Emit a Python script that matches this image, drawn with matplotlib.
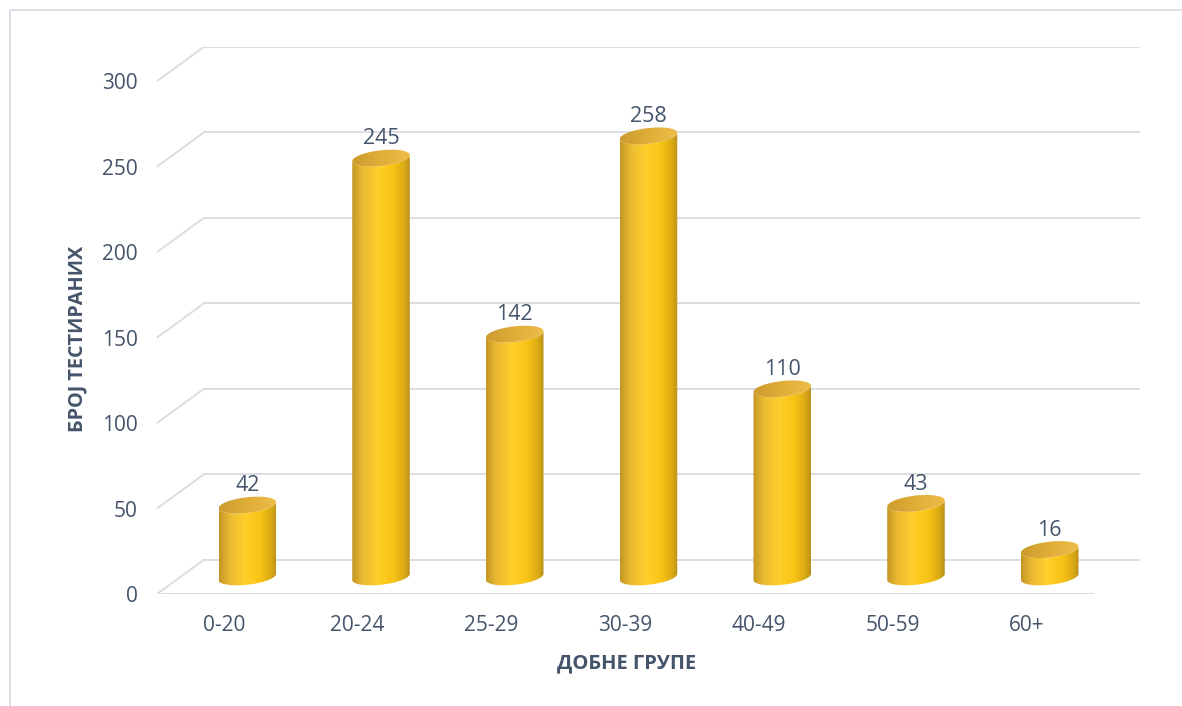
import numpy as np
import matplotlib
matplotlib.use("Agg")
import matplotlib.pyplot as plt
from matplotlib.patches import Polygon, Rectangle
from matplotlib.colors import LinearSegmentedColormap

plt.rcParams['font.family'] = ['Open Sans', 'DejaVu Sans']

# age groups and number of tested persons
groups = ['0-20', '20-24', '25-29', '30-39', '40-49', '50-59', '60+']
counts = [42, 245, 142, 258, 110, 43, 16]
yticks = [0, 50, 100, 150, 200, 250, 300]

TXT = '#44546A'
GRID = '#DCDCE2'

# pseudo-3D depth: back wall sits up/right, front edge down/left
dx = 0.175     # in category units
dz = 10.0      # in value units
bw = 0.215     # cylinder half width
eh = 4.6       # ellipse half height
shear = 1.8    # small tilt of the ellipses

fig = plt.figure(figsize=(11.82, 7.06), dpi=100)
fig.patch.set_facecolor('white')
fig.add_artist(Rectangle((10 / 1182, -0.02), 1.1, 1 - 10 / 706 + 0.02,
                         transform=fig.transFigure, fill=False,
                         ec='#D9DCE6', lw=1.3))

ax = fig.add_axes([157 / 1182, 1 - 594 / 706, 983 / 1182, 547 / 706])
n = len(groups)
x0, x1 = -0.5, n - 0.5

# back wall gridlines + slanted side lines
for v in yticks:
    ax.plot([x0 + dx, x1 + dx], [v + dz, v + dz], color=GRID, lw=1.4, zorder=1)
    ax.plot([x0 - dx, x0 + dx], [v - dz, v + dz], color=GRID, lw=1.4, zorder=1)
# front floor edge
ax.plot([x0 - dx, x1 - dx], [-dz, -dz], color=GRID, lw=1.4, zorder=1)

body_cmap = LinearSegmentedColormap.from_list('body', [
    (0.00, (0.76, 0.59, 0.14)),
    (0.18, (0.92, 0.73, 0.20)),
    (0.45, (1.00, 0.81, 0.17)),
    (0.70, (0.98, 0.77, 0.08)),
    (0.90, (0.86, 0.67, 0.08)),
    (1.00, (0.73, 0.56, 0.10)),
])
top_cmap = LinearSegmentedColormap.from_list('top', [
    (0.0, (0.80, 0.61, 0.18)),
    (0.5, (0.88, 0.68, 0.22)),
    (1.0, (0.93, 0.74, 0.29)),
])


def ellipse(cx, cy, t):
    return cx + bw * np.cos(t), cy + eh * np.sin(t) + shear * np.cos(t)


t_low = np.linspace(np.pi, 2 * np.pi, 60)
t_all = np.linspace(0, 2 * np.pi, 120)
grad = np.linspace(0, 1, 256)[None, :]

for i, v in enumerate(counts):
    bx, by = ellipse(i, 0, t_low)
    tx, ty = ellipse(i, v, t_low[::-1])
    body = Polygon(np.column_stack([np.r_[bx, tx], np.r_[by, ty]]),
                   closed=True, fc='none', ec='none')
    ax.add_patch(body)
    im = ax.imshow(grad, cmap=body_cmap, aspect='auto', zorder=2,
                   extent=[i - bw, i + bw, -eh - 3, v + eh + 3])
    im.set_clip_path(body)

    ex, ey = ellipse(i, v, t_all)
    cap = Polygon(np.column_stack([ex, ey]), closed=True, fc='none', ec='none')
    ax.add_patch(cap)
    im2 = ax.imshow(grad, cmap=top_cmap, aspect='auto', zorder=3,
                    extent=[i - bw, i + bw, v - eh - 3, v + eh + 3])
    im2.set_clip_path(cap)

    ax.annotate(str(v), xy=(i, v), xytext=(0, 10), textcoords='offset points',
                ha='center', va='baseline', fontsize=15.5, color=TXT, zorder=4)

ax.set_xlim(x0 - dx, x1 + dx)
ax.set_ylim(-dz, 300 + dz)

ax.set_yticks([v - dz for v in yticks])
ax.set_yticklabels([str(v) for v in yticks])
ax.set_xticks([i - dx for i in range(n)])
ax.set_xticklabels(groups)
ax.tick_params(axis='y', length=0, pad=14, labelsize=15, labelcolor=TXT)
ax.tick_params(axis='x', length=0, pad=15, labelsize=15, labelcolor=TXT)
for s in ax.spines.values():
    s.set_visible(False)
ax.set_facecolor('none')

fig.text(627 / 1182, 1 - 663 / 706, 'ДОБНЕ ГРУПЕ', ha='center', va='center',
         fontsize=14.5, fontweight='bold', color=TXT)
fig.text(77 / 1182, 1 - 339 / 706, 'БРОЈ ТЕСТИРАНИХ', ha='center', va='center',
         rotation=90, fontsize=14.3, fontweight='bold', color=TXT)

fig.savefig('out.png', dpi=100, facecolor='white')
